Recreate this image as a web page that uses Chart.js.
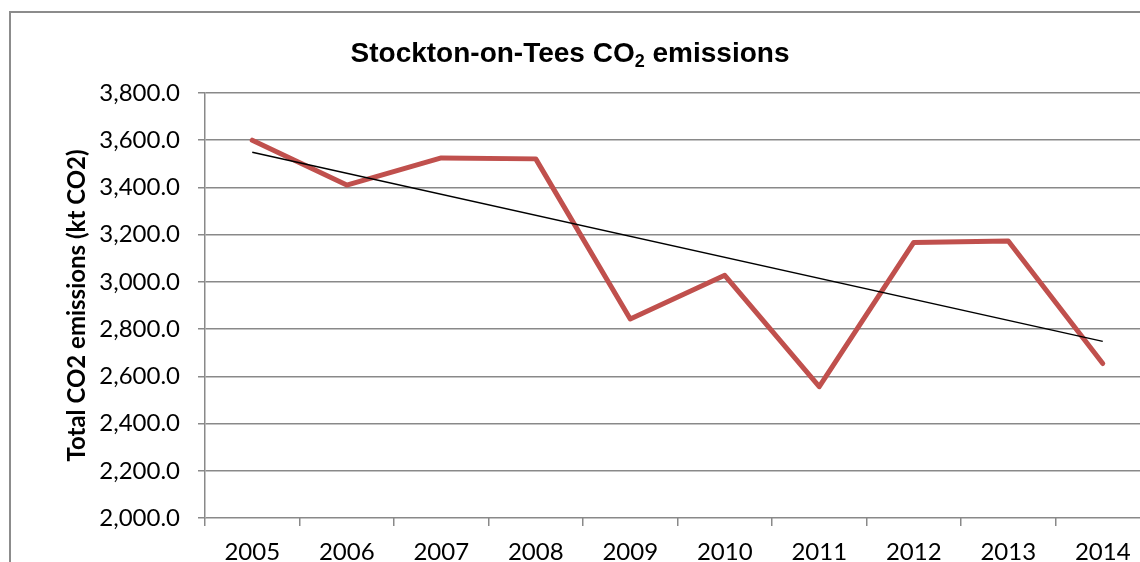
<!DOCTYPE html>
<html lang="en">
<head>
    <meta charset="UTF-8" />
    <title>Stockton-on-Tees CO2 emissions</title>
    <style>
        body {
            margin: 0;
            overflow: hidden;
            background: #fff;
        }

        .chart-box {
            position: absolute;
            left: 0;
            top: 0;
            width: 1200px;
            height: 600px;
        }
    </style>
    <script src="https://cdn.jsdelivr.net/npm/chart.js"></script>
</head>
<body>
    <div class="chart-box">
        <canvas id="co2Chart" width="1200" height="600"></canvas>
    </div>

    <script>
        const years = ["2005", "2006", "2007", "2008", "2009", "2010", "2011", "2012", "2013", "2014"];
        const emissions = [3600, 3410, 3525, 3521, 2843, 3028, 2556, 3167, 3173, 2654];
        // linear trendline, only its two ends are given
        const trend = [3549, null, null, null, null, null, null, null, null, 2748];

        const yTicks = { min: 2000, max: 3800, step: 200 };

        const gridGrey = "#898989";
        const tickFont = { family: "Lato, 'Open Sans', sans-serif", size: 24 };

        // outer frame and the title with a subscript 2
        const frameAndTitle = {
            id: "frameAndTitle",
            beforeDraw(chart) {
                const ctx = chart.ctx;
                ctx.save();
                ctx.strokeStyle = "#8c8c8c";
                ctx.lineWidth = 2;
                ctx.strokeRect(10, 12, 1400, 800);
                ctx.restore();
            },
            afterDraw(chart) {
                const ctx = chart.ctx;
                const main = "bold 28px 'Liberation Sans', Arial, sans-serif";
                const sub = "bold 18px 'Liberation Sans', Arial, sans-serif";
                const parts = [
                    { t: "Stockton-on-Tees CO", f: main, dy: 0 },
                    { t: "2", f: sub, dy: 5 },
                    { t: " emissions", f: main, dy: 0 }
                ];
                ctx.save();
                ctx.fillStyle = "#000";
                ctx.textBaseline = "alphabetic";
                let total = 0;
                parts.forEach((p) => {
                    ctx.font = p.f;
                    p.w = ctx.measureText(p.t).width;
                    total += p.w;
                });
                let x = 570 - total / 2;
                const baseline = 62;
                parts.forEach((p) => {
                    ctx.font = p.f;
                    ctx.fillText(p.t, x, baseline + p.dy);
                    x += p.w;
                });
                ctx.restore();
            }
        };

        new Chart(document.getElementById("co2Chart").getContext("2d"), {
            type: "line",
            data: {
                labels: years,
                datasets: [
                    {
                        label: "Total CO2 emissions",
                        data: emissions,
                        borderColor: "#C0504D",
                        borderWidth: 5,
                        borderJoinStyle: "round",
                        borderCapStyle: "round",
                        pointRadius: 0,
                        tension: 0,
                        fill: false,
                        order: 2
                    },
                    {
                        label: "Linear trend",
                        data: trend,
                        borderColor: "#000",
                        borderWidth: 1.5,
                        pointRadius: 0,
                        spanGaps: true,
                        tension: 0,
                        fill: false,
                        order: 1
                    }
                ]
            },
            options: {
                responsive: false,
                animation: false,
                layout: { padding: { top: 93, right: 50, left: 0, bottom: 0 } },
                plugins: {
                    legend: { display: false },
                    title: { display: false },
                    tooltip: { enabled: false }
                },
                scales: {
                    x: {
                        type: "category",
                        offset: true,
                        grid: {
                            offset: true,
                            drawOnChartArea: false,
                            color: gridGrey,
                            lineWidth: 1.5,
                            tickLength: 8
                        },
                        border: { display: false },
                        ticks: {
                            color: "#000",
                            padding: 12,
                            maxRotation: 0,
                            font: tickFont
                        },
                        afterFit(scale) {
                            scale.height = 82;
                        }
                    },
                    y: {
                        min: yTicks.min,
                        max: yTicks.max,
                        grid: {
                            color: gridGrey,
                            lineWidth: 1.5,
                            tickLength: 7
                        },
                        border: { color: gridGrey, width: 1.5 },
                        ticks: {
                            stepSize: yTicks.step,
                            color: "#000",
                            padding: 18,
                            font: tickFont,
                            callback: (v) => v.toLocaleString("en-US", { minimumFractionDigits: 1, maximumFractionDigits: 1 })
                        },
                        title: {
                            display: true,
                            text: "Total CO2 emissions (kt CO2)",
                            color: "#000",
                            padding: { top: 63, bottom: 0 },
                            font: { family: "Lato, 'Open Sans', sans-serif", size: 24, weight: "bold" }
                        },
                        afterFit(scale) {
                            scale.width = 205;
                        }
                    }
                }
            },
            plugins: [frameAndTitle]
        });
    </script>
</body>
</html>
